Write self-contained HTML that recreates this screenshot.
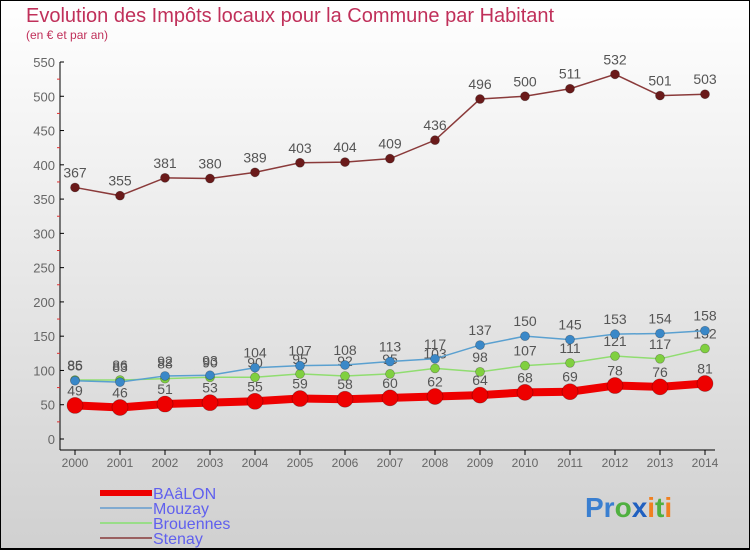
<!DOCTYPE html>
<html><head><meta charset="utf-8"><style>
body{margin:0;width:750px;height:550px;overflow:hidden;font-family:"Liberation Sans",sans-serif}
svg{display:block}
</style></head><body>
<svg width="750" height="550" xmlns="http://www.w3.org/2000/svg">
<defs><linearGradient id="bg" x1="0" y1="0" x2="0" y2="1"><stop offset="0" stop-color="#ffffff"/><stop offset="1" stop-color="#d0d0d0"/></linearGradient></defs>
<rect x="0" y="0" width="750" height="550" fill="url(#bg)"/>
<rect x="0.5" y="0.5" width="749" height="548" fill="none" stroke="#000" stroke-width="1"/>
<line x1="0" y1="549" x2="750" y2="549" stroke="#000" stroke-width="2"/>
<text x="26" y="22" font-size="20" fill="#c0305a">Evolution des Impôts locaux pour la Commune par Habitant</text>
<text x="26" y="39" font-size="12" fill="#c0305a">(en € et par an)</text>
<g id="axes"></g><g id="series"></g><g id="legend"></g>
<text x="585" y="517" font-size="28" font-weight="bold"><tspan fill="#3a7fd0">Pr</tspan><tspan fill="#50b040">o</tspan><tspan fill="#2060c0">x</tspan><tspan fill="#f08020">i</tspan><tspan fill="#50b040">t</tspan><tspan fill="#f08020">i</tspan></text>
</svg>
<script>
const years=[2000,2001,2002,2003,2004,2005,2006,2007,2008,2009,2010,2011,2012,2013,2014];
const baalon=[49,46,51,53,55,59,58,60,62,64,68,69,78,76,81];
const mouzay=[85,83,92,93,104,107,108,113,117,137,150,145,153,154,158];
const brouennes=[86,86,88,90,90,95,92,95,103,98,107,111,121,117,132];
const stenay=[367,355,381,380,389,403,404,409,436,496,500,511,532,501,503];
const yTicks=[0,50,100,150,200,250,300,350,400,450,500,550];
const NS="http://www.w3.org/2000/svg";
const X=i=>75+i*45, Y=v=>439-v*(377/550);
function mk(t,a,p){const e=document.createElementNS(NS,t);for(const k in a)e.setAttribute(k,a[k]);p.appendChild(e);return e;}
const ax=document.getElementById('axes');
let l=mk('line',{x1:60,y1:62,x2:60,y2:450,stroke:'#000'},ax);


l=mk('line',{x1:60,y1:450,x2:715,y2:450,stroke:'#000'},ax);


yTicks.forEach((v,i)=>{
 mk('line',{x1:60,y1:Y(v),x2:64,y2:Y(v),stroke:'#000'},ax);
 if(i<yTicks.length-1) mk('line',{x1:57,y1:Y(v+25),x2:60,y2:Y(v+25),stroke:'#e03030'},ax);
 const t=mk('text',{x:55,y:Y(v)+5,'font-size':13,fill:'#666','text-anchor':'end'},ax);t.textContent=v;
 
 
});
years.forEach((y,i)=>{
 mk('line',{x1:X(i),y1:450,x2:X(i),y2:455,stroke:'#000'},ax);
 const t=mk('text',{x:X(i),y:467,'font-size':12,fill:'#666','text-anchor':'middle'},ax);t.textContent=y;
 
 
});
const sg=document.getElementById('series');
function series(name,data,color,w,r,dot,labels){
 const g=mk('g',{},sg);
 
 
 const p=mk('polyline',{points:data.map((v,i)=>X(i)+','+Y(v)).join(' '),fill:'none',stroke:color,'stroke-width':w},g);
 
 
 data.forEach((v,i)=>{
  const c=mk('circle',{cx:X(i),cy:Y(v),r:r,fill:dot,stroke:'rgba(0,0,0,0.3)','stroke-width':0.7},g);
  
  
  if(labels){const t=mk('text',{x:X(i),y:Y(v)-10,'font-size':14,fill:'#555','text-anchor':'middle'},g);t.textContent=v;
  
  }
 });
}
series('stenay',stenay,'#8a3a3a',1.5,4.5,'#6a1a1a',true);
series('brouennes',brouennes,'#90dd70',1.5,4.5,'#80d040',true);
series('mouzay',mouzay,'#5aa0d0',1.5,4.5,'#3a88c8',true);
series('baalon',baalon,'#ee0000',8,8,'#ee0000',true);
const lg=document.getElementById('legend');
[['BAâLON','#ee0000',6],['Mouzay','#80aad0',2],['Brouennes','#99dd88',2],['Stenay','#9a6060',2]].forEach((d,i)=>{
 const g=mk('g',{},lg);
 
 
 mk('line',{x1:100,y1:493+i*15,x2:152,y2:493+i*15,stroke:d[1],'stroke-width':d[2]},g);
 const t=mk('text',{x:153,y:499+i*15,'font-size':16,fill:'#6060ee'},g);t.textContent=d[0];
});
</script>
</body></html>
